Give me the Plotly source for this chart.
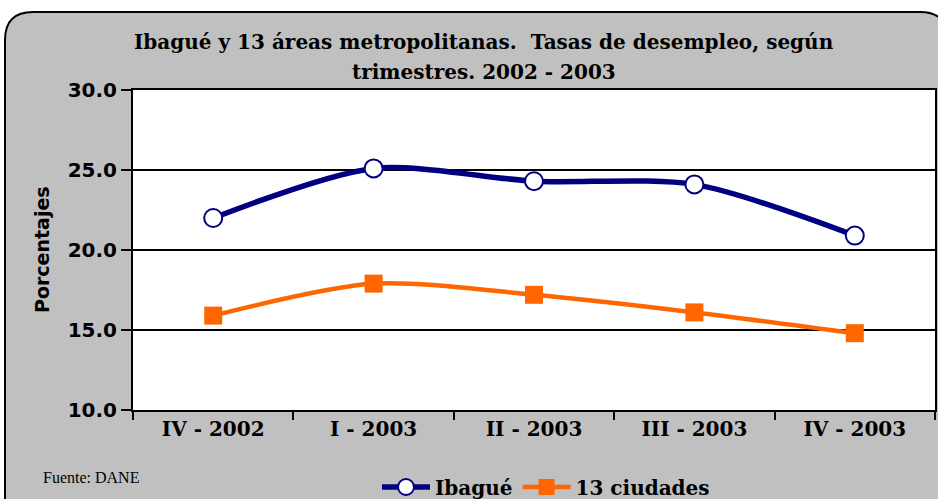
import plotly.graph_objects as go

# Datos (tasas de desempleo, %)
trimestres = ["IV - 2002", "I - 2003", "II - 2003", "III - 2003", "IV - 2003"]
ibague = [22.0, 25.1, 24.3, 24.1, 20.9]
ciudades = [15.9, 17.9, 17.2, 16.1, 14.8]

W, H = 938, 499
L, R, T, B = 133, 3, 90, 89
PW, PH = W - L - R, H - T - B

NAVY = "#000080"
ORANGE = "#FF6600"
GRAY = "#C0C0C0"


def px(x):
    return (x - L) / PW


def py(y):
    return (T + PH - y) / PH


fig = go.Figure()

fig.add_trace(go.Scatter(
    x=trimestres, y=ibague, name="Ibagué",
    mode="lines+markers",
    line=dict(color=NAVY, width=5.5, shape="spline", smoothing=0.8),
    marker=dict(symbol="circle", size=18, color="white",
                line=dict(color=NAVY, width=2)),
))
fig.add_trace(go.Scatter(
    x=trimestres, y=ciudades, name="13 ciudades",
    mode="lines+markers",
    line=dict(color=ORANGE, width=4.5, shape="spline", smoothing=0.8),
    marker=dict(symbol="square", size=18, color=ORANGE),
))

# marco gris redondeado
x0, x1 = px(5), px(948)
y0, y1 = py(508), py(12)
rx, ry = 28 / PW, 28 / PH
path = (f"M {x0},{y0} L {x0},{y1 - ry} Q {x0},{y1} {x0 + rx},{y1} "
        f"L {x1 - rx},{y1} Q {x1},{y1} {x1},{y1 - ry} L {x1},{y0} Z")
fig.add_shape(type="path", path=path, xref="paper", yref="paper",
              fillcolor=GRAY, line=dict(color="black", width=2), layer="below")
fig.add_shape(type="rect", x0=0, x1=1, y0=0, y1=1, xref="paper", yref="paper",
              fillcolor="white", line=dict(width=0), layer="below")

serif = "DejaVu Serif"
sans = "DejaVu Sans"

fig.add_annotation(text="Ibagué y 13 áreas metropolitanas.  Tasas de desempleo, según",
                   x=px(484), y=py(28), xref="paper", yref="paper", showarrow=False,
                   font=dict(family=serif, size=20, color="black", weight="bold"))
fig.add_annotation(text="trimestres. 2002 - 2003",
                   x=px(484), y=py(58), xref="paper", yref="paper", showarrow=False,
                   font=dict(family=serif, size=20, color="black", weight="bold"))
fig.add_annotation(text="Porcentajes", textangle=-90,
                   x=px(29), y=py(250), xref="paper", yref="paper", showarrow=False,
                   font=dict(family=sans, size=19, color="black", weight="bold"))
fig.add_annotation(text="Fuente: DANE",
                   x=px(41), y=py(488), xref="paper", yref="paper", showarrow=False,
                   xanchor="left", font=dict(family="Liberation Serif", size=16, color="black"))

fig.update_xaxes(
    type="category", range=[-0.5, 4.5], tickson="boundaries",
    ticks="outside", ticklen=8, tickwidth=2, tickcolor="black",
    showline=True, linewidth=2, linecolor="black", mirror=True,
    showgrid=False, zeroline=False, automargin=False,
    tickfont=dict(family=serif, size=20, color="black", weight="bold"),
)
fig.update_yaxes(
    range=[10, 30], dtick=5, tickformat=".1f",
    ticks="outside", ticklen=10, tickwidth=2, tickcolor="black",
    showline=True, linewidth=2, linecolor="black", mirror=True,
    showgrid=True, gridcolor="black", gridwidth=2, zeroline=False, automargin=False,
    tickfont=dict(family=sans, size=20, color="black", weight="bold"),
)

fig.update_layout(
    width=W, height=H,
    margin=dict(l=L, r=R, t=T, b=B, autoexpand=False),
    paper_bgcolor="white", plot_bgcolor="white",
    showlegend=True,
    legend=dict(orientation="h", x=px(546), y=py(487), xanchor="center", yanchor="middle",
                bgcolor="rgba(0,0,0,0)",
                font=dict(family=serif, size=20, color="black", weight="bold"),
                itemwidth=48, tracegroupgap=0),
)

fig.write_html("out.html", config={"displayModeBar": False},
               post_script="document.body.style.margin='0px';")
